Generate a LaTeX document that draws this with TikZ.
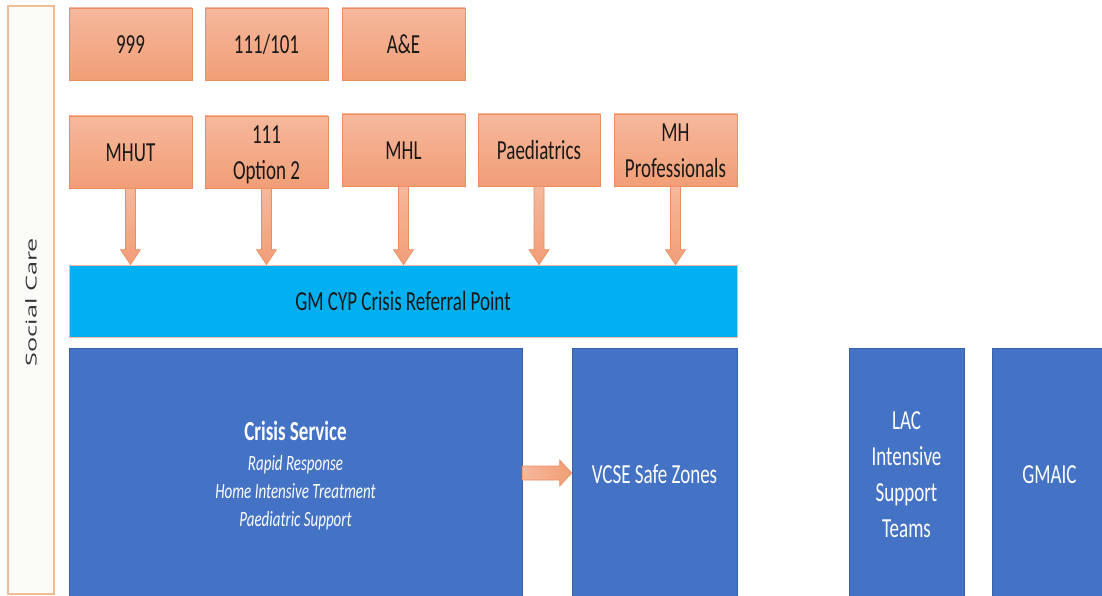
\documentclass[tikz,border=0pt]{standalone}
\usepackage{fontspec}
\usepackage{graphicx}
\setmainfont{Carlito}
\newfontfamily\scfont{Open Sans}
\usetikzlibrary{calc}
\definecolor{ortop}{RGB}{246,184,156}
\definecolor{orbot}{RGB}{241,158,118}
\definecolor{orline}{RGB}{236,140,95}
\definecolor{cyanbar}{RGB}{0,176,240}
\definecolor{blue1}{RGB}{68,114,196}
\definecolor{scfill}{RGB}{251,252,247}
\definecolor{scline}{RGB}{240,190,150}
\newcommand\stx[1]{\raisebox{-2.5pt}[\height][\depth]{\scalebox{1}[1.45]{\fontsize{19}{24.8}\selectfont\begin{tabular}{@{}c@{}}#1\end{tabular}}}}
\tikzset{
  obox/.style={rectangle, minimum width=123pt, minimum height=72pt, inner sep=0pt,
    top color=ortop, bottom color=orbot, draw=orline, line width=0.6pt, text=black!90},
  bbox/.style={rectangle, fill=blue1, draw=blue1!85!black, line width=0.5pt, inner sep=0pt,
    minimum height=252pt, text=white},
  farrow/.style={top color=ortop, bottom color=orbot, draw=orline, line width=0.6pt},
  harrow/.style={left color=ortop, right color=orbot, draw=orline, line width=0.6pt}
}
\begin{document}
\begin{tikzpicture}[x=1pt,y=-1pt]
\useasboundingbox (0,0) rectangle (1102,596);
\clip (0,0) rectangle (1102,596);
% social care
\node[rectangle, fill=scfill, draw=scline, line width=1.2pt, minimum width=46pt, minimum height=588pt, inner sep=0pt] (sc) at (31,300) {};
\node[rotate=90, text=black!80, inner sep=0pt] (sctext) at (31,302) {\scalebox{1.68}[1]{\scfont\fontsize{15}{18}\selectfont Social Care}};
% top row
\node[obox] (n999) at (130.5,44) {\stx{999}};
\node[obox] (n111) at (266.5,44) {\stx{111/101}};
\node[obox] (nae) at (403.5,44) {\stx{A\&E}};
% second row
\node[obox] (mhut) at (130.5,152) {\stx{MHUT}};
\node[obox] (opt) at (266.5,152) {\stx{111\\Option 2}};
\node[obox] (mhl) at (403.5,150) {\stx{MHL}};
\node[obox, minimum width=122pt] (paed) at (539,150) {\stx{Paediatrics}};
\node[obox] (mhp) at (675.5,150) {\stx{MH\\Professionals}};
% referral point
\node[rectangle, fill=cyanbar, draw=orline!60, line width=0.6pt, minimum width=668pt, minimum height=72pt, inner sep=0pt, text=black!90] (cyp) at (403,301) {\stx{GM CYP Crisis Referral Point}};
% arrows into referral point
\foreach \bx in {mhut,opt,mhl,paed,mhp}{
  \draw[farrow] let \p1=(\bx.south), \p2=(cyp.north) in
    (\x1-5pt,\y1) -- (\x1-5pt,\y2+15pt) -- (\x1-10pt,\y2+15pt) -- (\x1,\y2)
    -- (\x1+10pt,\y2+15pt) -- (\x1+5pt,\y2+15pt) -- (\x1+5pt,\y1) -- cycle;
}
% blue boxes
\node[bbox, minimum width=453pt] (crisis) at (295.5,474) {\raisebox{-4pt}[\height][\depth]{\scalebox{1}[1.45]{\fontsize{15}{19.3}\selectfont\begin{tabular}{@{}c@{}}{\bfseries\fontsize{19}{19.3}\selectfont Crisis Service}\\[1pt]\itshape Rapid Response\\\itshape Home Intensive Treatment\\\itshape Paediatric Support\end{tabular}}}};
\node[bbox, minimum width=165pt] (vcse) at (654.5,474) {\stx{VCSE Safe Zones}};
\node[bbox, minimum width=115pt] (lac) at (906.5,474) {\stx{LAC\\Intensive\\Support\\Teams}};
\node[bbox, minimum width=115pt] (gmaic) at (1049.5,474) {\stx{GMAIC}};
% crisis -> vcse
\draw[harrow] let \p1=(crisis.east), \p2=(vcse.west) in
  (\x1,\y1+8pt) -- (\x2-12pt,\y1+8pt) -- (\x2-12pt,\y1+14pt) -- (\x2,\y1+1pt)
  -- (\x2-12pt,\y1-12pt) -- (\x2-12pt,\y1-6pt) -- (\x1,\y1-6pt) -- cycle;
\end{tikzpicture}
\end{document}
